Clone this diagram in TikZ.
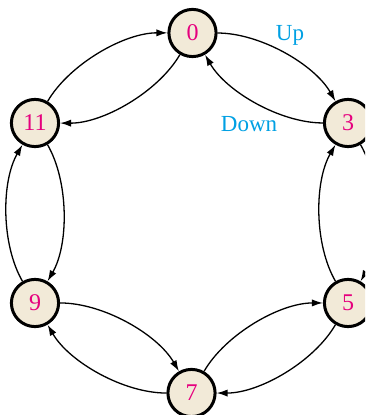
\documentclass[tikz,border=0pt]{standalone}
\usepackage{fontspec}
\setmainfont{Liberation Serif}
\usetikzlibrary{arrows.meta}
\definecolor{nodefill}{RGB}{242,234,216}
\definecolor{digit}{RGB}{230,0,126}
\definecolor{lab}{RGB}{0,160,227}
\tikzset{
  state/.style={circle, draw=black, line width=1.5pt, fill=nodefill, minimum size=23.6pt, inner sep=0pt, text=digit, font=\fontsize{12pt}{13pt}\selectfont},
  trans/.style={-{Latex[length=5.5pt,width=3.6pt]}, line width=0.65pt, bend left=30, looseness=0.8},
  lbl/.style={text=lab, font=\fontsize{11.5pt}{12pt}\selectfont}
}
\begin{document}
\begin{tikzpicture}[x=0.5pt,y=-0.5pt]
\useasboundingbox (0,0) rectangle (365,415);
\clip (0,0) rectangle (365,415);
\node[state] (n0) at (192.5,33) {0};
\node[state] (n3) at (348,123) {3};
\node[state] (n5) at (348,303) {5};
\node[state] (n7) at (191.5,393) {7};
\node[state] (n9) at (35,303) {9};
\node[state] (n11) at (35,123) {11};
\draw[trans] (n0) to (n3);
\draw[trans] (n3) to (n5);
\draw[trans] (n5) to (n7);
\draw[trans] (n7) to (n9);
\draw[trans] (n9) to (n11);
\draw[trans] (n11) to (n0);
\draw[trans] (n0) to (n11);
\draw[trans] (n11) to (n9);
\draw[trans] (n9) to (n7);
\draw[trans] (n7) to (n5);
\draw[trans] (n5) to (n3);
\draw[trans] (n3) to (n0);
\node[lbl] (up) at (290,35) {Up};
\node[lbl] (down) at (249,124) {Down};
\end{tikzpicture}
\end{document}
